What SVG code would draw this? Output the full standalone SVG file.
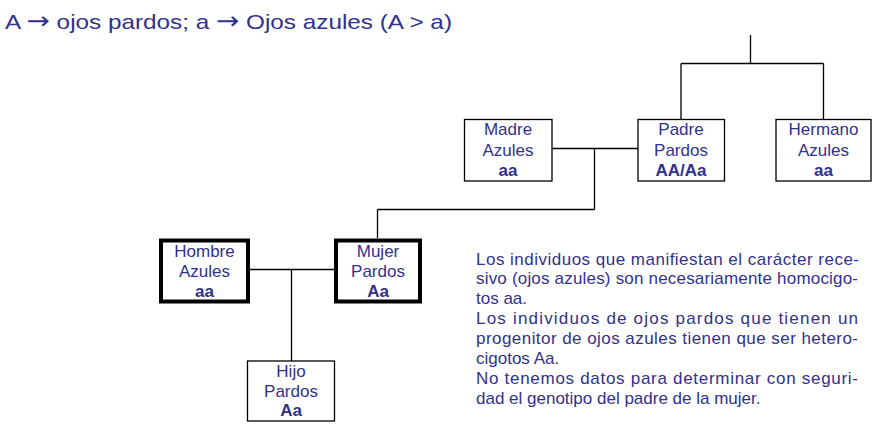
<svg xmlns="http://www.w3.org/2000/svg" width="885" height="438" viewBox="0 0 885 438">
<style>
.t{font-family:"Liberation Sans",Arial,sans-serif;fill:#31318f}
.n{font-size:17px;text-anchor:middle}
.b{font-weight:bold}
.p{font-size:17px}
.ar{font-family:"DejaVu Sans",sans-serif;font-size:24px}
.box{fill:#fff;stroke:#000;stroke-width:1.3}
.thick{fill:#fff;stroke:#000;stroke-width:4}
.ln{fill:none;stroke:#000;stroke-width:1.3}
</style>
<rect width="885" height="438" fill="#fff"/>
<text class="t" x="5" y="29" font-size="21" textLength="447" lengthAdjust="spacingAndGlyphs">A <tspan class="ar">→</tspan> ojos pardos; a <tspan class="ar">→</tspan> Ojos azules (A &gt; a)</text>
<g id="connectors">
<path class="ln" d="M750.5 35V63.5M681 63.5H823.5M681 63.5V119M823.5 63.5V119"/>
<path class="ln" d="M552 148.5H638M594.5 148.5V209.5M377.5 209.5H594.5M377.5 209.5V238"/>
<path class="ln" d="M250 269.5H334M291.5 269.5V361"/>
</g>
<g id="madre">
<rect class="box" x="464.5" y="119.5" width="87.5" height="61.5"/>
<text class="t n" x="508" y="135">Madre</text>
<text class="t n" x="508" y="156">Azules</text>
<text class="t n b" x="508" y="176">aa</text>
</g>
<g id="padre">
<rect class="box" x="638" y="119.5" width="86.5" height="61.5"/>
<text class="t n" x="681" y="135">Padre</text>
<text class="t n" x="681" y="156">Pardos</text>
<text class="t n b" x="681" y="176">AA/Aa</text>
</g>
<g id="hermano">
<rect class="box" x="776" y="119.5" width="95" height="61.5"/>
<text class="t n" x="823.5" y="135">Hermano</text>
<text class="t n" x="823.5" y="156">Azules</text>
<text class="t n b" x="823.5" y="176">aa</text>
</g>
<g id="hombre">
<rect class="thick" x="161" y="240.5" width="87" height="61"/>
<text class="t n" x="204.5" y="257">Hombre</text>
<text class="t n" x="204.5" y="277">Azules</text>
<text class="t n b" x="204.5" y="297">aa</text>
</g>
<g id="mujer">
<rect class="thick" x="336" y="240.5" width="84" height="61"/>
<text class="t n" x="378" y="257">Mujer</text>
<text class="t n" x="378" y="277">Pardos</text>
<text class="t n b" x="378" y="297">Aa</text>
</g>
<g id="hijo">
<rect class="box" x="247.5" y="361" width="87" height="60"/>
<text class="t n" x="291" y="377">Hijo</text>
<text class="t n" x="291" y="397">Pardos</text>
<text class="t n b" x="291" y="416">Aa</text>
</g>
<g id="nota" class="t p">
<text x="476" y="265" textLength="383" lengthAdjust="spacing">Los individuos que manifiestan el carácter rece-</text>
<text x="476" y="284" textLength="382" lengthAdjust="spacing">sivo (ojos azules) son necesariamente homocigo-</text>
<text x="476" y="304">tos aa.</text>
<text x="476" y="324" textLength="382" lengthAdjust="spacing">Los individuos de ojos pardos que tienen un</text>
<text x="476" y="344" textLength="382" lengthAdjust="spacing">progenitor de ojos azules tienen que ser hetero-</text>
<text x="476" y="364">cigotos Aa.</text>
<text x="476" y="384" textLength="382" lengthAdjust="spacing">No tenemos datos para determinar con seguri-</text>
<text x="476" y="404">dad el genotipo del padre de la mujer.</text>
</g>
</svg>
